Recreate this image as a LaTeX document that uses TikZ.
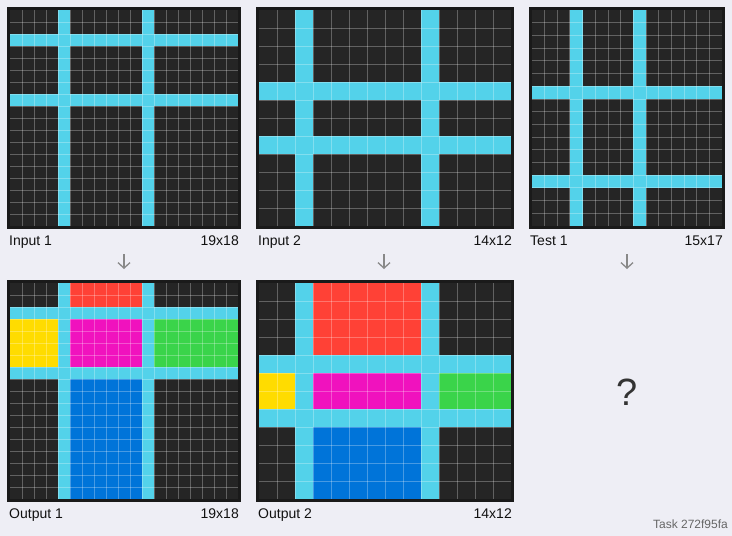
\documentclass[tikz,border=0pt]{standalone}
\usepackage{fontspec}
\setmainfont{Liberation Sans}
\usetikzlibrary{arrows.meta}
\definecolor{bg}{RGB}{238,238,245}
\definecolor{cellbg}{RGB}{37,37,37}
\definecolor{framecol}{RGB}{26,26,26}
\definecolor{arcblue}{RGB}{83,210,234}
\definecolor{arcred}{RGB}{255,65,54}
\definecolor{arcyellow}{RGB}{255,220,0}
\definecolor{arcmag}{RGB}{240,18,190}
\definecolor{arcgreen}{RGB}{58,212,74}
\definecolor{arcdeep}{RGB}{0,116,217}
\definecolor{labelcol}{RGB}{17,17,17}
\definecolor{arrowcol}{RGB}{136,136,136}
\newcommand\cfill[8]{\fill[#8] ({#1+(#4)*#3},{#2+(#5)*#3}) rectangle ({#1+(#6+1)*#3},{#2+(#7+1)*#3});}
\newcommand\cellbase[5]{\fill[cellbg] (#1,#2) rectangle ({#1+#4*#3},{#2+#5*#3});}
\newcommand\gridpanel[5]{%
  \foreach \i in {1,...,#4}{\draw[gridline] ({#1+\i*#3},#2) -- ({#1+\i*#3},{#2+#5*#3});}
  \foreach \j in {1,...,#5}{\draw[gridline] (#1,{#2+\j*#3}) -- ({#1+#4*#3},{#2+\j*#3});}
  \draw[framebox] ({#1-1.5},{#2-1.5}) rectangle ({#1+#4*#3+1.5},{#2+#5*#3+1.5});}
\tikzset{
  gridline/.style={white, opacity=0.28, line width=0.8pt},
  framebox/.style={framecol, line width=3pt},
  lbl/.style={font=\fontsize{14}{16}\selectfont, text=labelcol, inner sep=0pt},
  downarrow/.style={arrowcol, line width=1.3pt, -{Straight Barb[length=5.5pt,width=12pt]}},
}
\begin{document}
\begin{tikzpicture}[x=1pt,y=-1pt]
\useasboundingbox (0,0) rectangle (732,536);
\fill[bg] (0,0) rectangle (732,536);
% ---- Input 1: 19x18, cell 12
\cellbase{10}{10}{12}{19}{18}
\cfill{10}{10}{12}{0}{2}{18}{2}{arcblue}
\cfill{10}{10}{12}{0}{7}{18}{7}{arcblue}
\cfill{10}{10}{12}{4}{0}{4}{17}{arcblue}
\cfill{10}{10}{12}{11}{0}{11}{17}{arcblue}
\gridpanel{10}{10}{12}{19}{18}
% ---- Input 2: 14x12, cell 18
\cellbase{259.3}{10}{18}{14}{12}
\cfill{259.3}{10}{18}{0}{4}{13}{4}{arcblue}
\cfill{259.3}{10}{18}{0}{7}{13}{7}{arcblue}
\cfill{259.3}{10}{18}{2}{0}{2}{11}{arcblue}
\cfill{259.3}{10}{18}{9}{0}{9}{11}{arcblue}
\gridpanel{259.3}{10}{18}{14}{12}
% ---- Test 1: 15x17, cell 12.7
\cellbase{531.7}{10}{12.7}{15}{17}
\cfill{531.7}{10}{12.7}{0}{6}{14}{6}{arcblue}
\cfill{531.7}{10}{12.7}{0}{13}{14}{13}{arcblue}
\cfill{531.7}{10}{12.7}{3}{0}{3}{16}{arcblue}
\cfill{531.7}{10}{12.7}{8}{0}{8}{16}{arcblue}
\gridpanel{531.7}{10}{12.7}{15}{17}
% ---- Output 1
\cellbase{10}{283}{12}{19}{18}
\cfill{10}{283}{12}{5}{0}{10}{1}{arcred}
\cfill{10}{283}{12}{0}{3}{3}{6}{arcyellow}
\cfill{10}{283}{12}{5}{3}{10}{6}{arcmag}
\cfill{10}{283}{12}{12}{3}{18}{6}{arcgreen}
\cfill{10}{283}{12}{5}{8}{10}{17}{arcdeep}
\cfill{10}{283}{12}{0}{2}{18}{2}{arcblue}
\cfill{10}{283}{12}{0}{7}{18}{7}{arcblue}
\cfill{10}{283}{12}{4}{0}{4}{17}{arcblue}
\cfill{10}{283}{12}{11}{0}{11}{17}{arcblue}
\gridpanel{10}{283}{12}{19}{18}
% ---- Output 2
\cellbase{259.3}{283}{18}{14}{12}
\cfill{259.3}{283}{18}{3}{0}{8}{3}{arcred}
\cfill{259.3}{283}{18}{0}{5}{1}{6}{arcyellow}
\cfill{259.3}{283}{18}{3}{5}{8}{6}{arcmag}
\cfill{259.3}{283}{18}{10}{5}{13}{6}{arcgreen}
\cfill{259.3}{283}{18}{3}{8}{8}{11}{arcdeep}
\cfill{259.3}{283}{18}{0}{4}{13}{4}{arcblue}
\cfill{259.3}{283}{18}{0}{7}{13}{7}{arcblue}
\cfill{259.3}{283}{18}{2}{0}{2}{11}{arcblue}
\cfill{259.3}{283}{18}{9}{0}{9}{11}{arcblue}
\gridpanel{259.3}{283}{18}{14}{12}
% ---- labels
\node[lbl, anchor=base west] (lin1) at (9,245) {Input 1};
\node[lbl, anchor=base east] (sin1) at (239,245) {19x18};
\node[lbl, anchor=base west] (lin2) at (258,245) {Input 2};
\node[lbl, anchor=base east] (sin2) at (512,245) {14x12};
\node[lbl, anchor=base west] (ltest) at (530,245) {Test 1};
\node[lbl, anchor=base east] (stest) at (723,245) {15x17};
\node[lbl, anchor=base west] (lout1) at (9,518) {Output 1};
\node[lbl, anchor=base east] (sout1) at (239,518) {19x18};
\node[lbl, anchor=base west] (lout2) at (258,518) {Output 2};
\node[lbl, anchor=base east] (sout2) at (512,518) {14x12};
% ---- arrows
\coordinate (a1s) at (124,254); \coordinate (a1e) at (124,269);
\coordinate (a2s) at (384,254); \coordinate (a2e) at (384,269);
\coordinate (a3s) at (627,254); \coordinate (a3e) at (627,269);
\draw[downarrow] (a1s) -- (a1e);
\draw[downarrow] (a2s) -- (a2e);
\draw[downarrow] (a3s) -- (a3e);
% ---- question mark and task id
\node[inner sep=0pt, text={rgb,255:red,51;green,51;blue,51}, font=\fontsize{38}{40}\selectfont] (qm) at (627,392) {?};
\node[inner sep=0pt, anchor=base east, text={rgb,255:red,102;green,102;blue,102}, font=\fontsize{12}{14}\selectfont] (task) at (728,528) {Task 272f95fa};
\end{tikzpicture}
\end{document}
